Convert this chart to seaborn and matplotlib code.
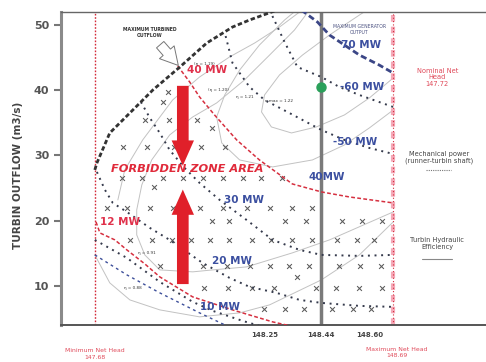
import matplotlib
matplotlib.use("Agg")
import matplotlib.pyplot as plt
import seaborn as sns

sns.set_theme(style="white")
plt.rcParams['font.family'] = ['DejaVu Sans']

# ---- axes ----
y_ticks = [10, 20, 30, 40, 50]
x_ticks = [148.25, 148.44, 148.60]
x_tick_labels = ["148.25", "148.44", "148.60"]

min_net_head = 147.683
max_net_head = 148.68
operating_head = 148.44
operating_point_q = 40.5

# ---- limit curves (net head m, outflow m3/s) ----
max_outflow_h = [147.683, 147.690, 147.733, 147.810, 147.877, 147.967, 148.057, 148.143, 148.200, 148.283]
max_outflow_q = [27.78, 28.85, 33.45, 36.97, 40.04, 43.56, 47.24, 49.69, 50.77, 52.15]

max_gen_h = [148.373, 148.427, 148.467, 148.517, 148.567, 148.633, 148.680]
max_gen_q = [52.3, 50.46, 48.47, 46.93, 45.40, 43.87, 42.64]

# ---- mechanical power lines ----
p60_h = [148.267, 148.317, 148.360, 148.440, 148.500, 148.567, 148.680]
p60_q = [52.3, 47.39, 43.56, 42.03, 40.50, 39.27, 37.43]

p50_h = [148.120, 148.143, 148.200, 148.250, 148.333, 148.440, 148.517, 148.600, 148.680]
p50_q = [48.31, 44.18, 40.50, 38.51, 36.51, 33.91, 32.38, 31.15, 30.23]

p40_h = [147.960, 148.000, 148.033, 148.083, 148.157, 148.233, 148.343, 148.440, 148.533, 148.680]
p40_q = [43.72, 41.26, 38.97, 36.21, 32.38, 29.31, 25.63, 24.41, 23.64, 22.72]

p30_h = [147.837, 147.867, 147.900, 147.933, 147.983, 148.033, 148.100, 148.190, 148.277,
         148.367, 148.440, 148.567, 148.680]
p30_q = [38.20, 35.75, 33.45, 30.84, 28.08, 25.79, 23.18, 20.11, 17.05, 15.52, 14.75, 14.60, 14.75]

p20_h = [147.690, 147.717, 147.743, 147.790, 147.867, 147.933, 148.043, 148.133, 148.200,
         148.290, 148.367, 148.440, 148.567, 148.680]
p20_q = [27.47, 24.71, 22.72, 21.34, 18.89, 17.05, 13.52, 11.23, 9.85, 8.93, 7.85, 7.39, 6.93, 6.78]

p12_h = [147.687, 147.700, 147.750, 147.790, 147.850, 147.900, 148.010, 148.143, 148.277, 148.350]
p12_q = [19.81, 18.12, 17.05, 15.52, 13.37, 11.38, 8.31, 6.32, 4.48, 3.72]

p10_h = [147.683, 147.790, 147.900, 148.010, 148.077, 148.177, 148.233]
p10_q = [17.05, 14.29, 10.61, 7.55, 6.17, 4.63, 3.87]

p8_h = [147.683, 147.790, 147.900, 148.033, 148.117]
p8_q = [14.75, 11.69, 8.93, 5.86, 4.02]

# ---- hydraulic efficiency contours ----
eff1_h = [148.680, 148.600, 148.517, 148.423, 148.340, 148.273, 148.240, 148.250, 148.300,
          148.377, 148.467, 148.567, 148.593]
eff1_q = [41.88, 38.81, 36.21, 34.37, 33.45, 34.37, 36.67, 39.27, 42.34, 45.40, 48.47, 51.53, 52.30]

eff2_h = [148.680, 148.600, 148.517, 148.410, 148.277, 148.167, 148.107, 148.090, 148.117,
          148.167, 148.233, 148.317, 148.357]
eff2_q = [36.97, 34.21, 31.61, 29.31, 28.24, 29.31, 31.92, 35.90, 39.27, 43.10, 46.93, 50.77, 52.30]

eff3_h = [148.680, 148.467, 148.343, 148.190, 148.077, 148.010, 147.900, 147.850, 147.823,
          147.823, 147.840, 147.873, 147.933, 148.010, 148.090, 148.183, 148.267, 148.350, 148.400]
eff3_q = [21.34, 17.05, 15.06, 12.91, 12.45, 12.15, 12.45, 14.75, 17.82, 21.65, 25.48, 29.31,
          33.14, 35.90, 38.05, 41.57, 45.40, 49.23, 52.30]

eff4_h = [147.760, 147.783, 147.843, 147.943, 148.033, 148.133, 148.217, 148.300, 148.367]
eff4_q = [23.18, 27.78, 32.38, 38.51, 42.03, 45.10, 47.24, 49.69, 51.99]

eff5_h = [147.683, 147.733, 147.800, 147.900, 148.033, 148.167, 148.267, 148.440, 148.567, 148.680]
eff5_q = [14.75, 10.46, 7.85, 6.32, 5.25, 5.86, 7.09, 10.92, 14.75, 19.81]

# ---- tested operating points, grouped by outflow ----
op_rows = {
    39.73: [147.927],
    38.20: [147.910],
    35.44: [147.850, 147.930, 148.023],
    34.21: [148.073],
    31.30: [147.777, 147.857, 147.947, 148.037, 148.117],
    26.55: [147.773, 147.840, 147.910, 147.977, 148.043, 148.110, 148.177, 148.237, 148.310],
    25.17: [147.880],
    21.95: [147.723, 147.790, 147.867, 147.943, 148.033, 148.110, 148.190, 148.267, 148.343, 148.410],
    19.96: [148.073, 148.133, 148.317, 148.390, 148.510, 148.577, 148.643],
    17.05: [147.800, 147.873, 147.940, 148.003, 148.067, 148.133, 148.207, 148.273, 148.343,
            148.410, 148.493, 148.560, 148.617],
    13.07: [147.900, 147.970, 148.043, 148.123, 148.200, 148.267, 148.333, 148.400, 148.500,
            148.570, 148.640],
    11.38: [148.357],
    9.69: [148.047, 148.127, 148.207, 148.283, 148.423, 148.490, 148.567, 148.643],
    6.48: [148.247, 148.317, 148.383, 148.477, 148.547, 148.607],
}

# ---- labels ----
power_labels = [("70 MW", 148.573, 46.93), ("-60 MW", 148.575, 40.50),
                ("-50 MW", 148.553, 32.07), ("40MW", 148.457, 26.70),
                ("30 MW", 148.183, 23.18), ("20 MW", 148.143, 13.80),
                ("10 MW", 148.100, 6.78)]
red_labels = [("40 MW", 148.057, 43.1), ("12 MW", 147.767, 19.81)]
eta_labels = [("(η = 1.19)", 148.050, 44.02), ("(η = 1.20)", 148.097, 40.04),
              ("η = 1.21", 148.183, 38.97), ("η max = 1.22", 148.300, 38.35),
              ("η = 0.91", 147.857, 15.06), ("η = 0.88", 147.810, 9.69)]

fig = plt.figure(figsize=(4.86, 3.62), dpi=100)
ax = fig.add_axes([0.1255, 0.1022, 0.8745, 0.8647])
ax.set_xlim(147.57, 148.99)
ax.set_ylim(4.0, 52.0)


def curve(h, q, **kw):
    sns.lineplot(x=h, y=q, sort=False, estimator=None, ax=ax, legend=False, **kw)


# efficiency contours
for eh, eq in [(eff1_h, eff1_q), (eff2_h, eff2_q), (eff3_h, eff3_q), (eff4_h, eff4_q), (eff5_h, eff5_q)]:
    curve(eh, eq, color="#c2c2c2", linewidth=0.7, zorder=1)

# operating points
pts_h = [h for q, hs in op_rows.items() for h in hs]
pts_q = [q for q, hs in op_rows.items() for h in hs]
sns.scatterplot(x=pts_h, y=pts_q, marker="x", color="#5a5a5a", s=12, linewidth=0.75, ax=ax, zorder=3)

# net head limits and operating head
ax.axvline(min_net_head, color="#d42a3a", linestyle=(0, (1.2, 1.2)), linewidth=1.0, zorder=2)
ax.axvline(max_net_head, color="#f5a9b8", linestyle=(0, (1.6, 1.2)), linewidth=3.0, zorder=2)
ax.axvline(max_net_head, color="#d42a3a", linestyle=(0, (1, 2)), linewidth=0.8, zorder=2)
ax.axvline(operating_head, color="#7a7a7a", linewidth=2.5, zorder=2)

# power lines
dot = (0, (1, 2.4))
for ph, pq in [(p60_h, p60_q), (p50_h, p50_q), (p30_h, p30_q), (p20_h, p20_q), (p10_h, p10_q)]:
    curve(ph, pq, color="#353a4c", linewidth=1.4, linestyle=dot, zorder=4)
curve(p8_h, p8_q, color="#3d4f9a", linewidth=1.0, linestyle=(0, (2, 2.5)), zorder=4)
curve(p40_h, p40_q, color="#d63040", linewidth=1.1, linestyle=(0, (2.5, 1.5)), zorder=4)
curve(p12_h, p12_q, color="#d63040", linewidth=1.1, linestyle=(0, (2.5, 1.5)), zorder=4)

# limit curves
curve(max_outflow_h, max_outflow_q, color="#333333", linewidth=2.0, linestyle=(0, (1.6, 0.9)), zorder=5)
curve(max_gen_h, max_gen_q, color="#3b4686", linewidth=2.0, linestyle=(0, (2.2, 1.2)), zorder=5)

# operating point
ax.plot([operating_head], [operating_point_q], "o", color="#2aa05a", markersize=6.5, zorder=6)

# forbidden zone arrows
arrow_style = "simple,head_length=1.3,head_width=1.15,tail_width=0.6"
ax.annotate("", xy=(147.977, 28.0), xytext=(147.977, 41.1),
            arrowprops=dict(arrowstyle=arrow_style, mutation_scale=14, color="#e0202a", lw=0), zorder=7)
ax.annotate("", xy=(147.977, 25.2), xytext=(147.977, 9.85),
            arrowprops=dict(arrowstyle=arrow_style, mutation_scale=14, color="#e0202a", lw=0), zorder=7)

ax.text(147.993, 27.9, "FORBIDDEN ZONE AREA", color="#e02a3a", fontsize=8.2, fontweight="bold",
        fontstyle="italic", ha="center", va="center", zorder=8)

# callouts
ax.annotate("MAXIMUM TURBINED\nOUTFLOW", xy=(147.962, 43.8), xytext=(147.867, 48.8),
            fontsize=3.3, color="#333333", ha="center", va="center", fontweight="bold",
            arrowprops=dict(arrowstyle="simple,head_length=0.9,head_width=1.0,tail_width=0.5",
                            mutation_scale=14, fc="white", ec="#777777", lw=0.7,
                            shrinkA=3, shrinkB=0), zorder=8)
ax.text(148.567, 49.3, "MAXIMUM GENERATOR\nOUTPUT", fontsize=3.3, color="#4a5080",
        ha="center", va="center", linespacing=1.1, zorder=8)

for txt, h, q in power_labels:
    ax.text(h, q, txt, color="#3b4fa0", fontsize=7.5, fontweight="bold", ha="center", va="center", zorder=8)
for txt, h, q in red_labels:
    ax.text(h, q, txt, color="#e0304a", fontsize=7.5, fontweight="bold", ha="center", va="center", zorder=8)
for txt, h, q in eta_labels:
    ax.text(h, q, txt, color="#333333", fontsize=3.0, ha="center", va="center", zorder=8)

# side notes
ax.text(148.827, 42.0, "Nominal Net\nHead\n147.72", color="#e04a5a", fontsize=4.8,
        ha="center", va="center", linespacing=1.1, zorder=8)
ax.text(148.833, 29.7, "Mechanical power\n(runner-turbin shaft)", color="#444444", fontsize=4.8,
        ha="center", va="center", linespacing=1.1, zorder=8)
ax.plot([148.790, 148.873], [27.78, 27.78], color="#777777", linewidth=0.8, linestyle=(0, (1, 1)))
ax.text(148.827, 16.5, "Turbin Hydraulic\nEfficiency", color="#444444", fontsize=4.8,
        ha="center", va="center", linespacing=1.1, zorder=8)
ax.plot([148.777, 148.877], [14.14, 14.14], color="#888888", linewidth=0.8)

ax.text(147.683, 0.1, "Minimum Net Head", color="#e04a5a", fontsize=4.4, ha="center",
        va="center", clip_on=False)
ax.text(147.683, -0.95, "147.68", color="#e04a5a", fontsize=4.4, ha="center", va="center", clip_on=False)
ax.text(148.693, 0.3, "Maximum Net Head", color="#e04a5a", fontsize=4.4, ha="center",
        va="center", clip_on=False)
ax.text(148.693, -0.75, "148.69", color="#e04a5a", fontsize=4.4, ha="center", va="center", clip_on=False)

# axes styling
ax.set_yticks(y_ticks)
ax.set_xticks(x_ticks, x_tick_labels)
ax.tick_params(axis="y", length=5, width=1.5, color="#777777", labelsize=8, labelcolor="#555555",
               pad=3.5, left=True)
for lbl in ax.get_yticklabels():
    lbl.set_fontweight("bold")
ax.tick_params(axis="x", length=0, labelsize=5, labelcolor="#444444", pad=5)
for lbl in ax.get_xticklabels():
    lbl.set_fontweight("bold")
ax.set_xlabel("")
ax.set_ylabel("TURBIN OUTFLOW (m3/s)", fontsize=7.5, fontweight="bold", color="#444444")
ax.yaxis.set_label_coords(-0.09, 0.479)

ax.spines["right"].set_visible(False)
ax.spines["left"].set_color("#8a8a8a")
ax.spines["left"].set_linewidth(2.2)
ax.spines["bottom"].set_color("#555555")
ax.spines["bottom"].set_linewidth(1.4)
ax.spines["top"].set_color("#666666")
ax.spines["top"].set_linewidth(1.0)
ax.grid(False)

fig.savefig("out.png", dpi=100)
